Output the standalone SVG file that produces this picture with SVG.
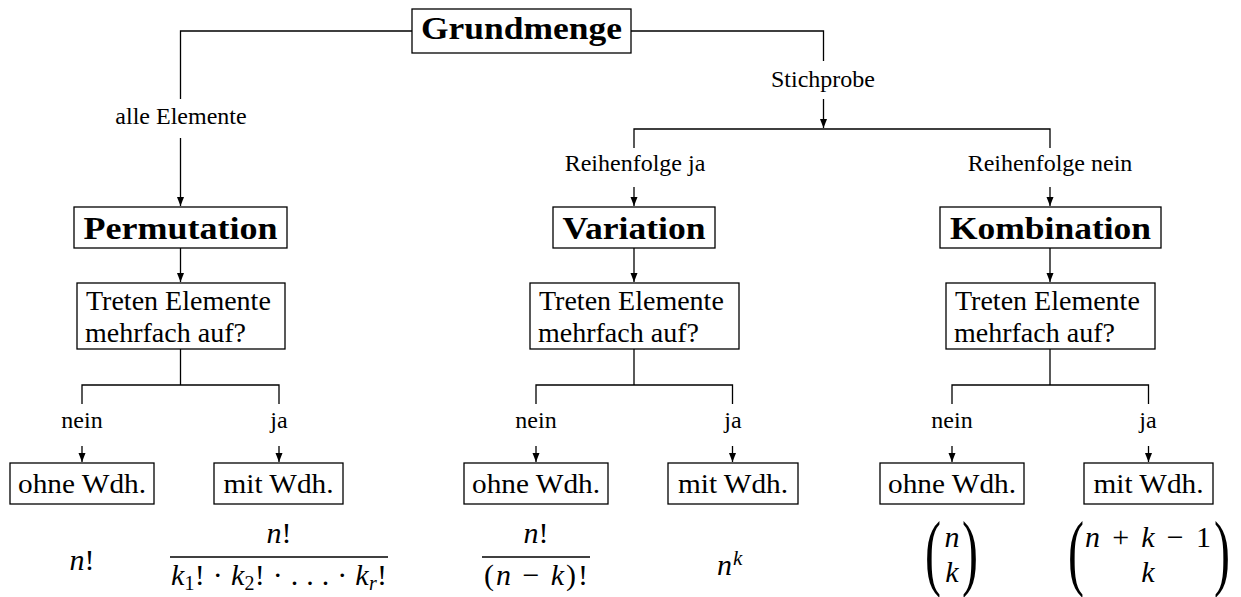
<svg xmlns="http://www.w3.org/2000/svg" width="1241" height="597" viewBox="0 0 1241 597">
<style>
text{font-family:"Liberation Serif","Times New Roman",serif;fill:#000}
.t{font-size:32px;font-weight:bold;text-anchor:middle}
.q{font-size:28px}
.w{font-size:28px;text-anchor:middle}
.l{font-size:24px;text-anchor:middle}
.m{font-size:30px;text-anchor:middle}
.i{font-style:italic}
.s{font-size:20px}
.p{font-size:48px}
.box{fill:#fff;stroke:#000;stroke-width:1.3}
.c{fill:none;stroke:#000;stroke-width:1.3}
.bar{stroke:#000;stroke-width:1.3}
</style>
<defs>
<marker id="ah" markerUnits="userSpaceOnUse" markerWidth="10" markerHeight="8" refX="9" refY="3.5" orient="auto">
<path d="M0,0 L9,3.5 L0,7 z" fill="#000"/>
</marker>
</defs>

<g id="connectors">
<path class="c" d="M412,31 H180.5 V99"/>
<path class="c" d="M180.5,138 V206" marker-end="url(#ah)"/>
<path class="c" d="M631,31 H823.5 V61"/>
<path class="c" d="M823.5,99 V128" marker-end="url(#ah)"/>
<path class="c" d="M634,148 V129 H1050 V148"/>
<path class="c" d="M634,187 V206" marker-end="url(#ah)"/>
<path class="c" d="M1050,187 V206" marker-end="url(#ah)"/>
<path class="c" d="M180.5,248 V282" marker-end="url(#ah)"/>
<path class="c" d="M634,248 V282" marker-end="url(#ah)"/>
<path class="c" d="M1050,248 V282" marker-end="url(#ah)"/>
<path class="c" d="M180.5,349 V385"/>
<path class="c" d="M82,404 V385 H279 V404"/>
<path class="c" d="M634,349 V385"/>
<path class="c" d="M536,404 V385 H732.5 V404"/>
<path class="c" d="M1050,349 V385"/>
<path class="c" d="M952,404 V385 H1148.5 V404"/>
<path class="c" d="M82,446 V462" marker-end="url(#ah)"/>
<path class="c" d="M279,446 V462" marker-end="url(#ah)"/>
<path class="c" d="M536,446 V462" marker-end="url(#ah)"/>
<path class="c" d="M732.5,446 V462" marker-end="url(#ah)"/>
<path class="c" d="M952,446 V462" marker-end="url(#ah)"/>
<path class="c" d="M1148.5,446 V462" marker-end="url(#ah)"/>
<text class="l" x="181" y="124">alle Elemente</text>
<text class="l" x="823" y="87">Stichprobe</text>
<text class="l" x="635" y="171">Reihenfolge ja</text>
<text class="l" x="1050" y="171">Reihenfolge nein</text>
<text class="l" x="82" y="428">nein</text>
<text class="l" x="279" y="428">ja</text>
<text class="l" x="536" y="428">nein</text>
<text class="l" x="733" y="428">ja</text>
<text class="l" x="952" y="428">nein</text>
<text class="l" x="1148" y="428">ja</text>
</g>

<g id="grundmenge">
<rect class="box" x="412" y="9" width="219" height="44"/>
<text class="t" x="521.5" y="39" textLength="201" lengthAdjust="spacingAndGlyphs">Grundmenge</text>
</g>

<g id="permutation">
<rect class="box" x="74" y="207" width="213" height="41"/>
<text class="t" x="180.5" y="239" textLength="194" lengthAdjust="spacingAndGlyphs">Permutation</text>
</g>
<g id="variation">
<rect class="box" x="553" y="207" width="162" height="41"/>
<text class="t" x="634" y="239" textLength="143" lengthAdjust="spacingAndGlyphs">Variation</text>
</g>
<g id="kombination">
<rect class="box" x="940" y="207" width="221" height="41"/>
<text class="t" x="1050.5" y="239" textLength="201" lengthAdjust="spacingAndGlyphs">Kombination</text>
</g>

<g id="frage-permutation">
<rect class="box" x="77" y="283" width="208" height="66"/>
<text class="q" x="86" y="310">Treten Elemente</text>
<text class="q" x="85" y="342">mehrfach auf?</text>
</g>
<g id="frage-variation">
<rect class="box" x="530" y="283" width="209" height="66"/>
<text class="q" x="539" y="310">Treten Elemente</text>
<text class="q" x="538" y="342">mehrfach auf?</text>
</g>
<g id="frage-kombination">
<rect class="box" x="946" y="283" width="209" height="66"/>
<text class="q" x="955" y="310">Treten Elemente</text>
<text class="q" x="954" y="342">mehrfach auf?</text>
</g>

<g id="perm-ohne">
<rect class="box" x="10" y="463" width="144" height="41"/>
<text class="w" x="82" y="493" textLength="128" lengthAdjust="spacingAndGlyphs">ohne Wdh.</text>
</g>
<g id="perm-mit">
<rect class="box" x="214" y="463" width="129" height="41"/>
<text class="w" x="278.5" y="493" textLength="110" lengthAdjust="spacingAndGlyphs">mit Wdh.</text>
</g>
<g id="var-ohne">
<rect class="box" x="464" y="463" width="144" height="41"/>
<text class="w" x="536" y="493" textLength="128" lengthAdjust="spacingAndGlyphs">ohne Wdh.</text>
</g>
<g id="var-mit">
<rect class="box" x="668" y="463" width="130" height="41"/>
<text class="w" x="733" y="493" textLength="110" lengthAdjust="spacingAndGlyphs">mit Wdh.</text>
</g>
<g id="komb-ohne">
<rect class="box" x="880" y="463" width="144" height="41"/>
<text class="w" x="952" y="493" textLength="128" lengthAdjust="spacingAndGlyphs">ohne Wdh.</text>
</g>
<g id="komb-mit">
<rect class="box" x="1084" y="463" width="129" height="41"/>
<text class="w" x="1148.5" y="493" textLength="110" lengthAdjust="spacingAndGlyphs">mit Wdh.</text>
</g>

<g id="formel-perm-ohne">
<text class="m" x="82" y="570"><tspan class="i">n</tspan>!</text>
</g>
<g id="formel-perm-mit">
<text class="m" x="279" y="543"><tspan class="i">n</tspan>!</text>
<line class="bar" x1="170" y1="557" x2="388" y2="557"/>
<text class="m" x="279" y="585" textLength="216"><tspan class="i">k</tspan><tspan class="s" dy="5">1</tspan><tspan dy="-5">! · </tspan><tspan class="i">k</tspan><tspan class="s" dy="5">2</tspan><tspan dy="-5">! · . . . · </tspan><tspan class="i">k</tspan><tspan class="s i" dy="5">r</tspan><tspan dy="-5">!</tspan></text>
</g>
<g id="formel-var-ohne">
<text class="m" x="536" y="543"><tspan class="i">n</tspan>!</text>
<line class="bar" x1="482" y1="557" x2="590" y2="557"/>
<text class="m" x="536" y="585" textLength="104">(<tspan class="i">n</tspan> − <tspan class="i">k</tspan>)!</text>
</g>
<g id="formel-var-mit">
<text x="717" y="575" font-size="30"><tspan class="i">n</tspan><tspan class="i" font-size="21" dx="1" dy="-10">k</tspan></text>
</g>
<g id="formel-komb-ohne">
<text class="p" transform="translate(925,580) scale(1,1.78)">(</text>
<text class="p" transform="translate(962,580) scale(1,1.78)">)</text>
<text class="m i" x="952" y="547">n</text>
<text class="m i" x="952" y="582">k</text>
</g>
<g id="formel-komb-mit">
<text class="p" transform="translate(1068,580) scale(1,1.78)">(</text>
<text class="p" transform="translate(1214,580) scale(1,1.78)">)</text>
<text class="m" x="1148" y="547" textLength="126"><tspan class="i">n</tspan> + <tspan class="i">k</tspan> − 1</text>
<text class="m i" x="1148" y="582">k</text>
</g>
</svg>
